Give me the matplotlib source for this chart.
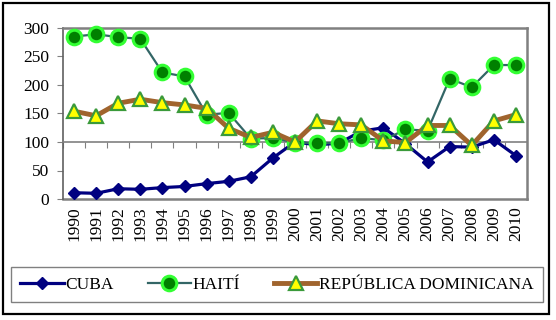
import matplotlib
matplotlib.use("Agg")
import matplotlib.pyplot as plt
import matplotlib.patches as mpatches
import numpy as np

years = [str(y) for y in range(1990, 2011)]
cuba = [11, 10, 18, 17, 20, 22, 27, 31, 39, 72, 100, 95, 98, 119, 125, 97, 65, 92, 91, 104, 76]
haiti = [285, 289, 284, 281, 222, 215, 148, 151, 106, 107, 99, 98, 98, 107, 103, 122, 120, 211, 196, 235, 235]
rd = [154, 146, 168, 175, 169, 165, 159, 124, 108, 117, 100, 137, 132, 130, 102, 99, 129, 129, 94, 137, 148]
yticks = [0, 50, 100, 150, 200, 250, 300]

plt.rcParams['font.family'] = ['Liberation Serif', 'DejaVu Serif']

W, H = 556, 320
fig = plt.figure(figsize=(W / 100, H / 100), dpi=100)

def fx(px):
    return px / W

def fy(py):
    return 1 - py / H

L, T, R, B = 63, 28, 527, 199
ax = fig.add_axes([fx(L), fy(B), fx(R - L), fy(T) - fy(B)])

x = np.arange(len(years))
ax.plot(x, cuba, color='#000080', lw=2.3, marker='D', ms=6.5,
        mfc='#000080', mec='#000080', label='CUBA', zorder=3, clip_on=False)
ax.plot(x, haiti, color='#336666', lw=1.6, marker='o', ms=10.5,
        mfc='#008000', mec='#33FF33', mew=2.2, label='HAITÍ', zorder=4, clip_on=False)
ax.plot(x, rd, color='#A0642D', lw=3.5, marker='^', ms=9.5,
        mfc='#FFFF00', mec='#3A9A3A', mew=1.6, label='REPÚBLICA DOMINICANA',
        zorder=5, clip_on=False, solid_joinstyle='round')

fs = 12.5
ax.set_xlim(-0.5, len(years) - 0.5)
ax.set_ylim(0, 300)
ax.set_yticks(yticks)
ax.set_yticklabels([str(v) for v in yticks], fontsize=fs)
ax.tick_params(axis='y', length=4, color='#808080', pad=6)

grey = '#808080'
for s in ['top', 'right', 'left']:
    ax.spines[s].set_color(grey)
    ax.spines[s].set_linewidth(1.8)
ax.spines['left'].set_color('#606060')
ax.spines['left'].set_linewidth(1.2)

# category axis crossing at 100
ax.spines['bottom'].set_position(('data', 100))
ax.spines['bottom'].set_color(grey)
ax.spines['bottom'].set_linewidth(1.2)
ax.set_xticks(np.arange(-0.5, len(years), 1))
ax.set_xticklabels([])
ax.tick_params(axis='x', length=4, color=grey, direction='out')

sec = ax.secondary_xaxis('bottom')
sec.set_xticks(x)
sec.set_xticklabels(years, rotation=90, fontsize=fs)
sec.tick_params(axis='x', length=0, pad=5)
sec.spines['bottom'].set_color(grey)
sec.spines['bottom'].set_linewidth(1.8)

leg = fig.legend(loc='center', bbox_to_anchor=(fx(277), fy(284.5)),
                 ncol=3, fontsize=fs, frameon=True, fancybox=False,
                 edgecolor='#606060', handlelength=2.5, handletextpad=0.1,
                 columnspacing=1.95, borderpad=0.55, borderaxespad=0)
leg.get_frame().set_linewidth(1.0)

fig.patches.append(mpatches.Rectangle((fx(3), fy(314)), fx(549 - 3), fy(3) - fy(314),
                                      transform=fig.transFigure, fill=False,
                                      edgecolor='black', lw=1.6))

fig.savefig('out.png', dpi=100)
